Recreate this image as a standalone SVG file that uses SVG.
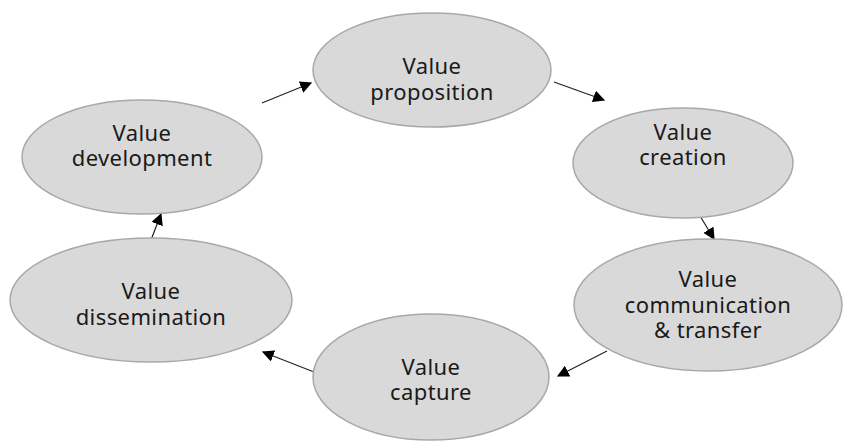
<svg xmlns="http://www.w3.org/2000/svg" width="843" height="443" viewBox="0 0 843 443">
  <style>
    .node ellipse { fill: #d9d9d9; stroke: #a8a8a8; stroke-width: 1.5; }
    .node text { font-family: "Noto Sans", "Open Sans", sans-serif; font-size: 22px; letter-spacing: 0.4px; fill: #1a1a1a; text-anchor: middle; }
    .edge { stroke: #222; stroke-width: 1.2; fill: none; marker-end: url(#arrow); }
  </style>
  <defs>
    <marker id="arrow" viewBox="0 0 10 10" refX="9" refY="5" markerWidth="12" markerHeight="12" markerUnits="userSpaceOnUse" orient="auto">
      <path d="M0,0 L10,5 L0,10 z" fill="#000"/>
    </marker>
  </defs>

  <rect width="843" height="443" fill="#fff"/>

  <g id="connectors">
    <line class="edge" x1="262" y1="103" x2="311" y2="83"/>
    <line class="edge" x1="554" y1="82" x2="604" y2="100"/>
    <line class="edge" x1="697" y1="211" x2="714" y2="239"/>
    <line class="edge" x1="607" y1="351" x2="558" y2="376"/>
    <line class="edge" x1="314" y1="372" x2="263" y2="352"/>
    <line class="edge" x1="151" y1="240" x2="161" y2="214"/>
  </g>

  <g id="value-proposition" class="node">
    <ellipse cx="432" cy="70" rx="119" ry="57"/>
    <text x="432" y="74">Value</text>
    <text x="432" y="100">proposition</text>
  </g>

  <g id="value-creation" class="node">
    <ellipse cx="683" cy="163" rx="110" ry="55"/>
    <text x="683" y="140">Value</text>
    <text x="683" y="165">creation</text>
  </g>

  <g id="value-communication" class="node">
    <ellipse cx="708" cy="305" rx="134" ry="66"/>
    <text x="708" y="287">Value</text>
    <text x="708" y="313">communication</text>
    <text x="708" y="338">&amp; transfer</text>
  </g>

  <g id="value-capture" class="node">
    <ellipse cx="431" cy="377" rx="118" ry="63"/>
    <text x="431" y="375">Value</text>
    <text x="431" y="400">capture</text>
  </g>

  <g id="value-dissemination" class="node">
    <ellipse cx="151" cy="300" rx="141" ry="62"/>
    <text x="151" y="299">Value</text>
    <text x="151" y="325">dissemination</text>
  </g>

  <g id="value-development" class="node">
    <ellipse cx="142" cy="157" rx="120" ry="57"/>
    <text x="142" y="141">Value</text>
    <text x="142" y="166">development</text>
  </g>
</svg>
